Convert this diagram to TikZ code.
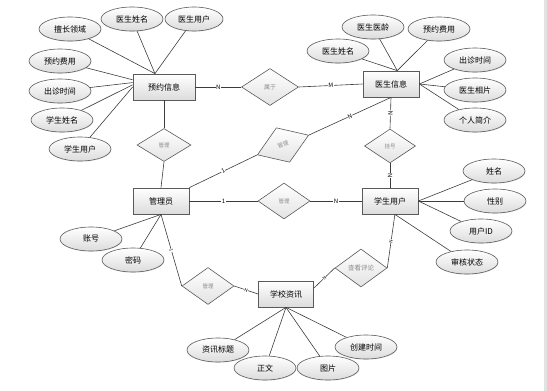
\documentclass[tikz,border=0pt]{standalone}
\usepackage{fontspec}
\setmainfont{Noto Sans CJK SC}
\usepackage{xcolor}
\usepackage{tikz}
\usetikzlibrary{shapes.geometric,shadows}
\definecolor{linegray}{HTML}{3C3C3C}
\definecolor{boxedge}{HTML}{5A5A5A}
\definecolor{softgray}{HTML}{DCDCDC}
\definecolor{labelgray}{HTML}{8C8C8C}
\definecolor{edgegray}{HTML}{E2E2E2}
\tikzset{
  entity/.style={draw=boxedge, line width=0.8pt, top color=white, bottom color=softgray, minimum width=56pt, minimum height=26pt, inner sep=1pt, drop shadow={shadow xshift=0.8pt, shadow yshift=-0.8pt, fill=gray!60}},
  attr/.style={ellipse, draw=boxedge, line width=0.6pt, top color=white, bottom color=softgray, minimum width=62pt, minimum height=24pt, inner sep=0pt, drop shadow={shadow xshift=0.5pt, shadow yshift=-0.7pt, fill=gray!40}},
  relation/.style={diamond, draw=boxedge, line width=0.6pt, top color=white, bottom color=softgray!80, minimum width=52pt, minimum height=36pt, inner sep=0pt, text=labelgray, font=\fontsize{5.5}{6}\selectfont},
  link/.style={draw=linegray, line width=0.6pt},
  card/.style={fill=white, inner sep=0.4pt, font=\fontsize{6}{6}\selectfont},
  tinycard/.style={fill=white, inner sep=0.3pt, font=\fontsize{4.5}{5}\selectfont}
}

\begin{document}
\begin{tikzpicture}[x=1pt, y=-1pt, font=\fontsize{8}{9}\selectfont]
  \useasboundingbox (0,0) rectangle (547,391);
  \fill[edgegray] (544,0) rectangle (547,391);

  \node[entity, minimum width=62pt] (resv) at (164,87) {预约信息};
  \node[entity] (doc) at (391,84) {医生信息};
  \node[entity] (admin) at (161,201) {管理员};
  \node[entity] (stu) at (390,201) {学生用户};
  \node[entity, minimum width=55pt] (news) at (286,294) {学校资讯};

  \node[relation, minimum width=54pt, minimum height=33pt] (mgresv) at (164,145) {管理};
  \node[relation, minimum width=57pt, minimum height=37pt, font=\fontsize{6}{6}\selectfont] (belong) at (270,87) {属于};
  \node[relation, rotate=21, minimum width=55pt, minimum height=37pt] (mgdoc) at (283,145) {管理};
  \node[relation, minimum width=51pt, minimum height=34pt] (regist) at (390,146) {挂号};
  \node[relation] (mgstu) at (284,201) {管理};
  \node[relation, minimum height=37pt] (mgnews) at (208,286) {管理};
  \node[relation, minimum width=52pt, minimum height=38pt, font=\fontsize{6.5}{7}\selectfont] (comment) at (361,268) {查看评论};

  \node[attr] (ra1) at (70,29) {擅长领域};
  \node[attr] (ra2) at (132,19) {医生姓名};
  \node[attr, minimum width=58pt] (ra3) at (194,19) {医生用户};
  \node[attr] (ra4) at (60,61) {预约费用};
  \node[attr] (ra5) at (60,91) {出诊时间};
  \node[attr] (ra6) at (62,120) {学生姓名};
  \node[attr] (ra7) at (80,149) {学生用户};

  \node[attr] (da1) at (373,27) {医生医龄};
  \node[attr] (da2) at (439,29) {预约费用};
  \node[attr] (da3) at (338,51) {医生姓名};
  \node[attr] (da4) at (475,60) {出诊时间};
  \node[attr] (da5) at (475,90) {医生相片};
  \node[attr] (da6) at (475,120) {个人简介};

  \node[attr] (sa1) at (494,171) {姓名};
  \node[attr] (sa2) at (495,201) {性别};
  \node[attr] (sa3) at (481,231) {用户ID};
  \node[attr] (sa4) at (467,262) {审核状态};

  \node[attr] (aa1) at (91,239) {账号};
  \node[attr] (aa2) at (133,260) {密码};

  \node[attr] (na1) at (218,350) {资讯标题};
  \node[attr] (na2) at (265,368) {正文};
  \node[attr] (na3) at (328,368) {图片};
  \node[attr] (na4) at (366,347) {创建时间};

  \foreach \x in {ra1,ra2,ra3} {
    \draw[link] (\x) -- (resv.124);
  }
  \foreach \x/\a in {ra4/167,ra5/172,ra6/176,ra7/180} {
    \draw[link] (\x) -- (resv.\a);
  }
  \foreach \x in {da1,da2,da3} {
    \draw[link] (\x) -- (doc.65);
  }
  \foreach \x in {da4,da5,da6} {
    \draw[link] (\x) -- (doc.east);
  }
  \foreach \x in {sa1,sa2,sa3} {
    \draw[link] (\x) -- (stu.east);
  }
  \draw[link] (sa4) -- (stu.290);
  \foreach \x in {aa1,aa2} {
    \draw[link] (\x) -- (admin.south);
  }
  \foreach \x in {na1,na2,na3,na4} {
    \draw[link] (\x) -- (news.south);
  }

  \draw[link] (resv.east) -- node[card] {N} (belong.west);
  \draw[link] (belong.east) -- node[card] {M} (doc.west);
  \draw[link] (resv.south) -- (mgresv.north);
  \draw[link] (mgresv.south) -- (admin.north);
  \draw[link] (admin.north east) -- node[card, sloped] {1} (mgdoc.west);
  \draw[link] (mgdoc.east) -- node[card, sloped] {N} (doc.south);
  \draw[link] (doc.south) -- node[card, sloped] {N} (regist.north);
  \draw[link] (regist.south) -- node[card, sloped] {N} (stu.north);
  \draw[link] (admin.east) -- node[card] {1} (mgstu.west);
  \draw[link] (mgstu.east) -- node[card] {N} (stu.west);
  \draw[link] (admin.south) -- node[tinycard, sloped] {1} (mgnews.west);
  \draw[link] (mgnews.east) -- node[tinycard, sloped] {N} (news.west);
  \draw[link] (news.12) -- node[tinycard, sloped] {N} (comment.west);
  \draw[link] (comment.east) -- node[tinycard, sloped] {N} (stu.290);
\end{tikzpicture}
\end{document}
